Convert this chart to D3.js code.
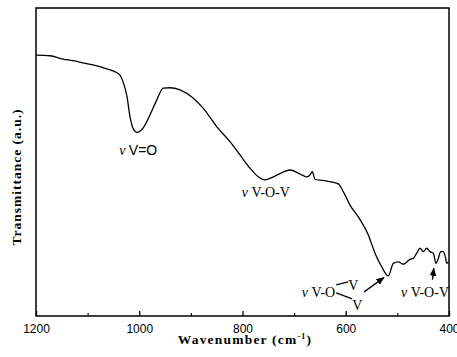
<!DOCTYPE html>
<html>
<head>
<meta charset="utf-8">
<script src="https://cdn.jsdelivr.net/npm/d3@7"></script>
<style>
  html, body { margin: 0; padding: 0; background: #fff; }
  svg { display: block; }
</style>
</head>
<body>
<svg id="chart" width="457" height="357"></svg>
<script>
// ---- data ----
const wavenumber = [1200, 1172.9, 1147.7, 1128.3, 1109, 1089.6, 1070.2, 1050.8, 1037.3, 1031.5,
  1023.7, 1017.9, 1011.5, 1004.4, 992.7, 979.2, 966.2, 953.4, 940.4, 921,
  895.3, 875.9, 850, 824.2, 804.8, 785.5, 769.4, 756.4, 740.3, 724.1,
  708, 688.6, 675.6, 669.3, 664.8, 659.6, 636.9, 614.4, 604.8, 591.8,
  575.7, 556.3, 543.3, 530.4, 517.6, 507.9, 498.2, 488.5, 475.5, 469.2,
  462.6, 456.2, 449.8, 443.2, 436.8, 430.4, 425.2, 420.7, 416.1, 411.1,
  406.4, 404.4, 401.3];
const transmittance = [84.7, 84.5, 83.4, 82.9, 82.2, 81.5, 80.6, 79.6, 78.2, 76.1,
  71.2, 64.7, 60.7, 59.6, 61.0, 65.3, 70.1, 74.0, 74.1, 73.4,
  70.7, 67.4, 61.5, 56.6, 52.3, 48.0, 45.2, 44.2, 45.2, 46.5,
  47.4, 46.1, 45.2, 45.8, 46.9, 44.4, 43.8, 42.9, 40.4, 36.0,
  32.2, 26.3, 20.4, 16.0, 13.0, 17.1, 17.6, 16.8, 18.4, 18.7,
  20.4, 22.0, 20.9, 22.0, 20.9, 20.4, 17.1, 18.7, 20.9, 20.9,
  18.7, 17.1, 17.6];
const majorTicks = [1200, 1000, 800, 600, 400];
const minorTicks = [1100, 900, 700, 500];
const xDomain = [1200, 400];
const yDomain = [0, 100];
const xTitle = "Wavenumber (cm";
const yTitle = "Transmittance (a.u.)";

// annotation labels: anchor in data coordinates
const labelText = ["V=O", "V-O-V", "V-O-V", "V-O"];
const labelWn = [1002, 755, 400, 685];
const labelT = [52.3, 38.6, 6.2, 6.2];
const labelAnchor = ["middle", "middle", "end", "start"];

// ---- layout ----
const margin = {left: 36, right: 8, top: 8, bottom: 41};
const W = 457, H = 357;
const svg = d3.select("#chart");
const x = d3.scaleLinear().domain(xDomain).range([margin.left, W - margin.right]);
const y = d3.scaleLinear().domain(yDomain).range([H - margin.bottom, margin.top]);

const data = wavenumber.map((w, i) => ({w, t: transmittance[i]}));

// spectrum
svg.append("path")
  .datum(data)
  .attr("fill", "none")
  .attr("stroke", "#000")
  .attr("stroke-width", 1.3)
  .attr("stroke-linejoin", "round")
  .attr("d", d3.line().x(d => x(d.w)).y(d => y(d.t)).curve(d3.curveMonotoneX));

// x axis
const xAxis = d3.axisBottom(x).tickValues(majorTicks).tickSize(-5).tickPadding(8)
  .tickFormat(d3.format("d"));
const gx = svg.append("g").attr("transform", `translate(0,${H - margin.bottom})`).call(xAxis);
gx.select(".domain").remove();
gx.selectAll(".tick line").attr("stroke", "#000").attr("stroke-width", 1.3);
gx.selectAll(".tick text").attr("font-family", "Liberation Sans, Arial, sans-serif")
  .attr("font-size", 12).attr("fill", "#000");
const gm = svg.append("g").attr("transform", `translate(0,${H - margin.bottom})`)
  .call(d3.axisBottom(x).tickValues(minorTicks).tickSize(-3).tickFormat(""));
gm.select(".domain").remove();
gm.selectAll(".tick line").attr("stroke", "#000").attr("stroke-width", 1.1);

// frame
svg.append("rect")
  .attr("x", margin.left).attr("y", margin.top)
  .attr("width", W - margin.left - margin.right)
  .attr("height", H - margin.top - margin.bottom)
  .attr("fill", "none").attr("stroke", "#000").attr("stroke-width", 1.5);

// axis titles
const xt = svg.append("text")
  .attr("x", 245).attr("y", 344)
  .attr("text-anchor", "middle")
  .attr("font-family", "Liberation Serif, Times New Roman, serif")
  .attr("font-weight", "bold").attr("font-size", 13.5)
  .attr("letter-spacing", 1.2);
xt.append("tspan").text(xTitle);
xt.append("tspan").attr("dy", -5).attr("font-size", 8).text("-1");
xt.append("tspan").attr("dy", 5).text(")");

svg.append("text")
  .attr("transform", "translate(21,177) rotate(-90)")
  .attr("text-anchor", "middle")
  .attr("font-family", "Liberation Serif, Times New Roman, serif")
  .attr("font-weight", "bold").attr("font-size", 13.5)
  .attr("letter-spacing", 1.0)
  .text(yTitle);

// annotations
const serif = "Liberation Serif, Times New Roman, serif";
const sans = "Liberation Sans, Arial, sans-serif";
function nuLabel(i, family) {
  const t = svg.append("text")
    .attr("x", x(labelWn[i])).attr("y", y(labelT[i]))
    .attr("text-anchor", labelAnchor[i])
    .attr("font-size", 14).attr("fill", "#000");
  t.append("tspan").attr("font-family", serif).attr("font-style", "italic").text("\u03BD ");
  t.append("tspan").attr("font-family", family).text(labelText[i]);
  return t;
}
nuLabel(0, sans);
nuLabel(1, serif);
nuLabel(2, serif);
const bridge = nuLabel(3, serif);

// bridged V-O-V (V-O with two V's)
const bbox = bridge.node().getBBox();
const bx = bbox.x + bbox.width, byy = y(labelT[3]);
svg.append("text").attr("x", bx + 13).attr("y", byy - 7)
  .attr("font-family", serif).attr("font-size", 14).text("V");
svg.append("text").attr("x", bx + 17).attr("y", byy + 13)
  .attr("font-family", serif).attr("font-size", 14).text("V");
svg.append("line").attr("x1", bx + 1).attr("y1", byy - 12).attr("x2", bx + 13).attr("y2", byy - 15)
  .attr("stroke", "#000").attr("stroke-width", 1.3);
svg.append("line").attr("x1", bx + 1).attr("y1", byy - 4).attr("x2", bx + 17).attr("y2", byy + 2)
  .attr("stroke", "#000").attr("stroke-width", 1.3);

// arrows
const defs = svg.append("defs");
defs.append("marker").attr("id", "ah").attr("viewBox", "0 0 10 10")
  .attr("refX", 9).attr("refY", 5).attr("markerWidth", 6).attr("markerHeight", 6)
  .attr("orient", "auto")
  .append("path").attr("d", "M0,1 L10,5 L0,9 Z").attr("fill", "#000");
svg.append("line")
  .attr("x1", bx + 29).attr("y1", byy - 5)
  .attr("x2", x(526)).attr("y2", y(12.5))
  .attr("stroke", "#000").attr("stroke-width", 1.4).attr("marker-end", "url(#ah)");
svg.append("line")
  .attr("x1", x(432)).attr("y1", y(11.8))
  .attr("x2", x(429.5)).attr("y2", y(15.5))
  .attr("stroke", "#000").attr("stroke-width", 1.4).attr("marker-end", "url(#ah)");
</script>
</body>
</html>
